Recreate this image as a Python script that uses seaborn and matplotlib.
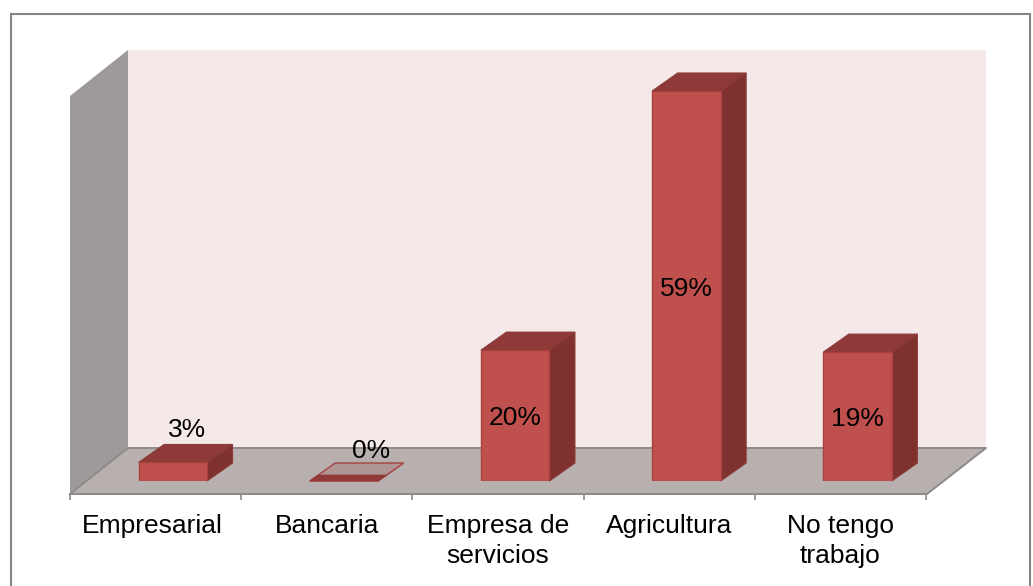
import matplotlib
matplotlib.use("Agg")
import matplotlib.pyplot as plt
from matplotlib.patches import Polygon
from matplotlib.transforms import Affine2D, ScaledTranslation
import seaborn as sns
import pandas as pd
import numpy as np

categories = ["Empresarial", "Bancaria", "Empresa de\nservicios", "Agricultura", "No tengo\ntrabajo"]
values = [2.8, 0.0, 19.8, 59.0, 19.5]
value_labels = ["3%", "0%", "20%", "59%", "19%"]

W, H = 1033, 586
sns.set_theme(style="white")
plt.rcParams["font.family"] = ["Liberation Sans", "DejaVu Sans"]
fig = plt.figure(figsize=(W / 100, H / 100), dpi=100, facecolor="white")
px = Affine2D().scale(1 / W, -1 / H).translate(0, 1) + fig.transFigure

def backdrop(pts, fc, ec="none", lw=0, z=1):
    fig.add_artist(Polygon(pts, closed=True, transform=px, fc=fc, ec=ec, lw=lw, zorder=z))

# chart frame
backdrop([(10.5, 13.5), (1030, 13.5), (1030, 590), (10.5, 590)], "white", "#868686", 1.5, 0)
# 3D walls
backdrop([(128, 50), (986, 50), (986, 448), (128, 448)], "#F4E8E8", z=1)
backdrop([(70, 96), (128, 50), (128, 448), (70, 494)], "#9F9999", z=1)
backdrop([(70, 494), (128, 448), (986, 448), (927, 494)], "#B8AFAF", z=1)
fig.add_artist(plt.Line2D([70, 128, 986, 927, 70], [494, 448, 448, 494, 494], transform=px,
                          color="#8F8B8B", lw=1.4, zorder=1.5))

ax = fig.add_axes([70 / W, 1 - 481 / H, 856 / W, 390 / H], zorder=3)
ax.patch.set_alpha(0)
df = pd.DataFrame({"category": categories, "value": values})
sns.barplot(data=df, x="category", y="value", color="#C0504D", saturation=1, width=0.4, ax=ax,
            edgecolor="#A5413F", linewidth=1)
ax.set_xlim(-0.5, 4.5)
ax.set_ylim(0, 59)
ax.set_xlabel("")
ax.set_ylabel("")
ax.set_yticks([])

# horizontal shift and depth of the 3D bars, in data units
x_per_px = 5 / 856
y_per_px = 59 / 390
shift = 17.2 * x_per_px
ddx, ddy = 25.5 * x_per_px, 18 * y_per_px

for patch, label, val in zip(ax.patches, value_labels, values):
    patch.set_x(patch.get_x() + shift)
    x0, w, h = patch.get_x(), patch.get_width(), patch.get_height()
    x1 = x0 + w
    xc = x0 + w / 2
    if h > 0:
        ax.add_patch(Polygon([(x1, 0), (x1 + ddx, ddy), (x1 + ddx, h + ddy), (x1, h)],
                             fc="#7F3130", ec="#8A3A38", lw=0.8, clip_on=False, zorder=2))
        ax.add_patch(Polygon([(x0, h), (x0 + ddx, h + ddy), (x1 + ddx, h + ddy), (x1, h)],
                             fc="#8F3A38", ec="#8A3A38", lw=0.8, clip_on=False, zorder=2))
    else:
        ax.add_patch(Polygon([(x0, 0), (x0 + ddx, ddy), (x1 + ddx, ddy), (x1, 0)],
                             fc="#B09595", ec="#A5413F", lw=1, clip_on=False, zorder=2))
        f = 6 / 18
        ax.add_patch(Polygon([(x0, 0), (x0 + ddx * f, ddy * f), (x1 + ddx * f, ddy * f), (x1, 0)],
                             fc="#8F3A38", ec="#8F3A38", lw=0.5, clip_on=False, zorder=2))
    patch.set_zorder(3)
    if h > 5:
        ax.annotate(label, (xc, h / 2), xytext=(0, -2.5), textcoords="offset pixels",
                    ha="center", va="center", fontsize=19, color="black", zorder=6)
    else:
        off = (14, 32) if h > 0 else (27, 30)
        ax.annotate(label, (xc, h), xytext=off, textcoords="offset pixels", ha="center", va="center",
                    fontsize=19, color="black", zorder=6, annotation_clip=False)

# axis line and ticks at the front edge of the floor
sns.despine(ax=ax, left=True, right=True, top=True, bottom=False)
ax.spines["bottom"].set_position(("outward", 13 * 0.72))
ax.spines["bottom"].set_color("#8F8B8B")
ax.spines["bottom"].set_linewidth(1.4)
ax.set_xticks(range(len(categories)))
ax.set_xticklabels(categories, fontsize=19, color="black", linespacing=1.3)
ax.set_xticks(np.arange(-0.5, 5), minor=True)
ax.tick_params(axis="x", which="major", length=0, pad=14.5)
ax.tick_params(axis="x", which="minor", length=4.5, width=1.2, color="#8F8B8B", bottom=True)
tick_labels = ax.get_xticklabels()
tick_labels[0].set_transform(tick_labels[0].get_transform() + ScaledTranslation(-3 / 100, 0, fig.dpi_scale_trans))

fig.savefig("out.png", dpi=100)
